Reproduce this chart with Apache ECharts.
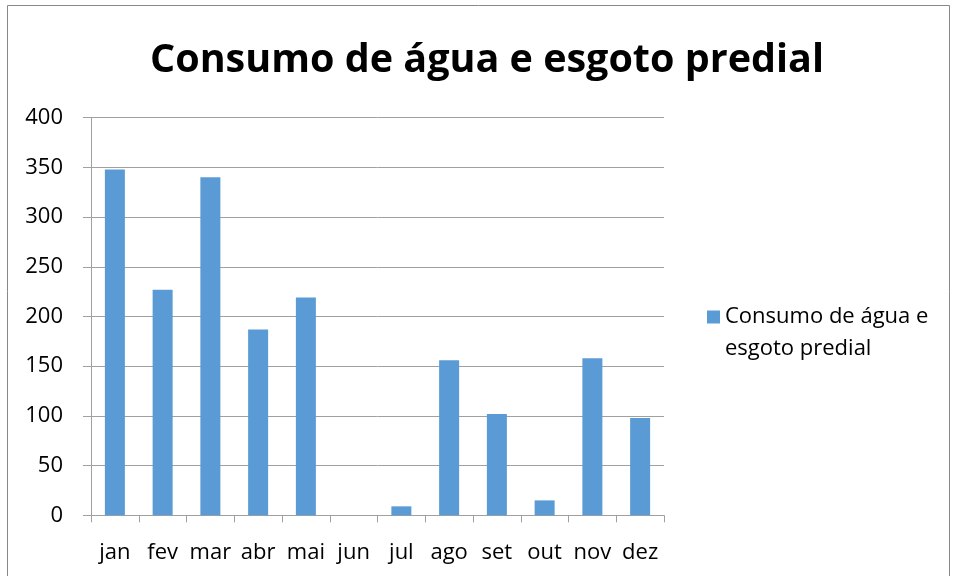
<!DOCTYPE html>
<html>
<head>
<meta charset="utf-8">
<script src="https://cdn.jsdelivr.net/npm/echarts@6/dist/echarts.min.js"></script>
<style>
  html, body { margin: 0; padding: 0; background: #fff; }
  #chart { width: 957px; height: 576px; }
</style>
</head>
<body>
<div id="chart"></div>
<script>
var months = ["jan", "fev", "mar", "abr", "mai", "jun", "jul", "ago", "set", "out", "nov", "dez"];
var consumo = [348, 227, 340, 187, 219, 0, 9, 156, 102, 15, 158, 98];
var seriesName = "Consumo de água e esgoto predial";
var chartTitle = "Consumo de água e esgoto predial";

var chart = echarts.init(document.getElementById("chart"));
var font = "'Open Sans', Lato, sans-serif";

var option = {
  animation: false,
  backgroundColor: "#fff",
  title: {
    text: chartTitle,
    left: 145,
    top: 36,
    textStyle: { fontFamily: font, fontSize: 39.5, fontWeight: "bold", color: "#000" }
  },
  graphic: [
    {
      type: "rect",
      shape: { x: 7.5, y: 5.5, width: 942, height: 600 },
      style: { fill: "none", stroke: "#888", lineWidth: 1 },
      silent: true
    }
  ],
  legend: {
    left: 707,
    top: 269,
    padding: 0,
    itemWidth: 13,
    itemHeight: 13,
    itemGap: 10,
    icon: "rect",
    data: [seriesName],
    // linha vazia em cima para alinhar o ícone com a primeira linha
    formatter: function () {
      return "\nConsumo de água e\nesgoto predial";
    },
    textStyle: {
      fontFamily: font,
      fontSize: 22,
      color: "#000",
      lineHeight: 32
    }
  },
  grid: { left: 91, right: 293, top: 117.7, bottom: 60.7 },
  xAxis: {
    type: "category",
    data: months,
    axisLine: { lineStyle: { color: "#a0a0a0" } },
    axisTick: { show: true, length: 7, lineStyle: { color: "#a0a0a0" } },
    axisLabel: { interval: 0, fontFamily: font, fontSize: 22, color: "#000", margin: 26 }
  },
  yAxis: {
    type: "value",
    min: 0,
    max: 400,
    interval: 50,
    axisLine: { show: true, lineStyle: { color: "#a0a0a0" } },
    axisTick: { show: true, length: 8, lineStyle: { color: "#a0a0a0" } },
    axisLabel: { fontFamily: font, fontSize: 22, color: "#000", margin: 28 },
    splitLine: { lineStyle: { color: "#a0a0a0" } }
  },
  series: [
    {
      name: seriesName,
      type: "bar",
      data: consumo,
      barWidth: 20,
      itemStyle: { color: "#5b9bd5" }
    }
  ]
};

chart.setOption(option);
</script>
</body>
</html>
